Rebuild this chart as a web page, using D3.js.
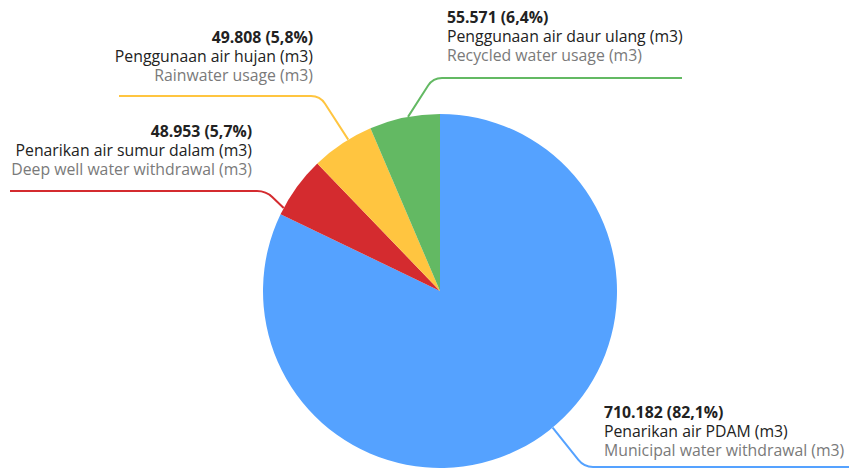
<!DOCTYPE html>
<html>
<head>
<meta charset="utf-8">
<script src="https://cdn.jsdelivr.net/npm/d3@7"></script>
<style>
  body { margin: 0; background: #fff; }
  text { font-family: "Open Sans", "Noto Sans", sans-serif; font-size: 15.8px; }
</style>
</head>
<body>
<svg id="chart" width="849" height="468"></svg>
<script>
// Water sources (m3)
const categoriesId = [
  "Penarikan air PDAM (m3)",
  "Penarikan air sumur dalam (m3)",
  "Penggunaan air hujan (m3)",
  "Penggunaan air daur ulang (m3)"
];
const categoriesEn = [
  "Municipal water withdrawal (m3)",
  "Deep well water withdrawal (m3)",
  "Rainwater usage (m3)",
  "Recycled water usage (m3)"
];
const values = [710182, 48953, 49808, 55571];
const colors = ["#55a2ff", "#d42b2f", "#ffc540", "#63b963"];

const width = 849, height = 468;
const cx = 440, cy = 291, radius = 177;

const locale = d3.formatLocale({ decimal: ",", thousands: ".", grouping: [3], currency: ["", ""] });
const fmtNum = locale.format(",d");
const fmtPct = locale.format(".1f");
const total = d3.sum(values);

const svg = d3.select("#chart");
const g = svg.append("g").attr("transform", `translate(${cx},${cy})`);

const pie = d3.pie().sort(null).value(d => d)(values);
const arc = d3.arc().innerRadius(0).outerRadius(radius);

g.selectAll("path.slice")
  .data(pie)
  .join("path")
  .attr("class", "slice")
  .attr("d", arc)
  .attr("fill", (d, i) => colors[i]);

// Label placement: text block side/position, the y of the underline, where the
// underline bends toward the slice, and where along the slice's arc the connector lands.
const layout = [
  { anchor: "start", x: 604, y: 418, lineY: 467, lineFrom: 1000, elbowX: 584, t: 0.475 },
  { anchor: "end",   x: 252, y: 137, lineY: 191, lineFrom: 10,   elbowX: 266, t: 0.11 },
  { anchor: "end",   x: 313, y: 43,  lineY: 96,  lineFrom: 119,  elbowX: 320, t: 0.61 },
  { anchor: "start", x: 447, y: 23,  lineY: 78,  lineFrom: 682,  elbowX: 433, t: 0.55 }
];
const lineH = 19;

function connectorPath(d, L) {
  const a = d.startAngle + L.t * (d.endAngle - d.startAngle);
  const px = cx + radius * Math.sin(a);
  const py = cy - radius * Math.cos(a);
  const ex = L.elbowX, ey = L.lineY;
  const r = 9;
  const dirH = Math.sign(L.lineFrom - ex);
  const dx = px - ex, dy = py - ey, len = Math.hypot(dx, dy);
  const rr = Math.min(r, len / 2);
  const p = d3.path();
  p.moveTo(L.lineFrom, ey);
  p.lineTo(ex + dirH * r, ey);
  p.quadraticCurveTo(ex, ey, ex + dx / len * rr, ey + dy / len * rr);
  p.lineTo(px, py);
  return p.toString();
}

svg.selectAll("path.connector")
  .data(pie)
  .join("path")
  .attr("class", "connector")
  .attr("d", (d, i) => connectorPath(d, layout[i]))
  .attr("fill", "none")
  .attr("stroke", (d, i) => colors[i])
  .attr("stroke-width", 2);

const labels = svg.selectAll("g.label")
  .data(pie)
  .join("g")
  .attr("class", "label");

labels.each(function (d, i) {
  const L = layout[i];
  const sel = d3.select(this);
  sel.append("text")
    .attr("x", L.x).attr("y", L.y)
    .attr("text-anchor", L.anchor)
    .attr("fill", "#222")
    .style("font-weight", "bold")
    .text(`${fmtNum(values[i])} (${fmtPct(values[i] / total * 100)}%)`);
  sel.append("text")
    .attr("x", L.x).attr("y", L.y + lineH)
    .attr("text-anchor", L.anchor)
    .attr("fill", "#222")
    .text(categoriesId[i]);
  sel.append("text")
    .attr("x", L.x).attr("y", L.y + lineH * 2)
    .attr("text-anchor", L.anchor)
    .attr("fill", "#7a7a7a")
    .text(categoriesEn[i]);
});
</script>
</body>
</html>
